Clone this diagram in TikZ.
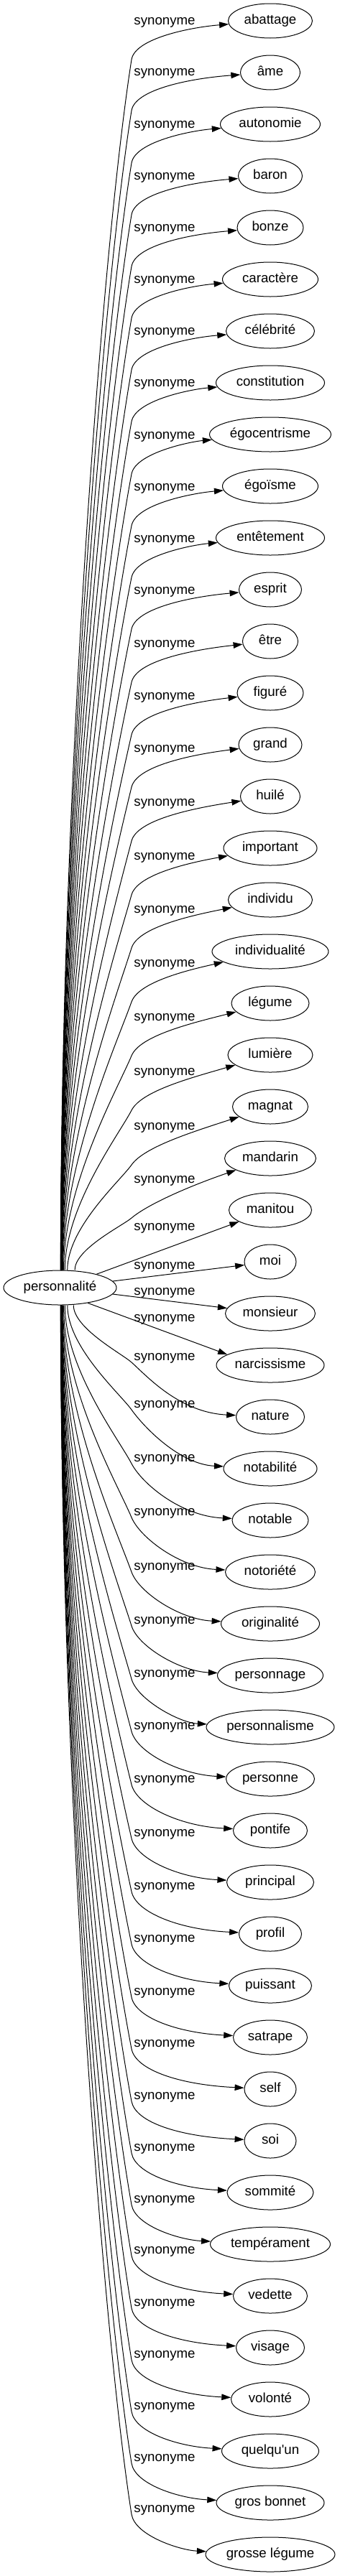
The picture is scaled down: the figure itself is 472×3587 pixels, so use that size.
\documentclass[tikz,border=0pt]{standalone}
\usepackage{fontspec}
\setmainfont{Liberation Sans}
\usetikzlibrary{shapes.geometric, arrows.meta, calc}

\begin{document}
\begin{tikzpicture}[x=1pt, y=-1pt, >={Triangle[length=13pt, width=8.5pt]}, line width=1pt,
    every node/.style={font=\fontsize{18.67}{22}\selectfont},
    motnode/.style={ellipse, draw, inner sep=0pt, minimum height=48pt, text height=13.5pt, text depth=4pt},
    synlabel/.style={anchor=base, inner sep=0pt},
    synedge/.style={->}]
    % 0. cadre de la page
    \useasboundingbox (0,0) rectangle (472,3587);

    % 1. noeud source
    \node[motnode, minimum width=157pt] (p) at (83.5,1793) {personnalité};

    % 2. synonymes (colonne de droite, pas de 72)
    \foreach \i/\w/\mot in {0/117/abattage, 1/83/âme, 2/139/autonomie, 3/89/baron, 4/92/bonze,
        5/133/caractère, 6/123/célébrité, 7/151/constitution, 8/169/égocentrisme, 9/133/égoïsme,
        10/151/entêtement, 11/87/esprit, 12/77/être, 13/92/figuré, 14/88/grand, 15/83/huilé,
        16/130/important, 17/117/individu, 18/162/individualité, 19/108/légume, 20/118/lumière,
        21/105/magnat, 22/127/mandarin, 23/115/manitou, 24/72/moi, 25/125/monsieur,
        26/150/narcissisme, 27/95/nature, 28/130/notabilité, 29/106/notable, 30/125/notoriété,
        31/137/originalité, 32/147/personnage, 33/178/personnalisme, 34/123/personne,
        35/103/pontife, 36/121/principal, 37/87/profil, 38/115/puissant, 39/103/satrape,
        40/72/self, 41/72/soi, 42/120/sommité, 43/167/tempérament, 44/103/vedette,
        45/95/visage, 46/109/volonté, 47/135/quelqu\textquotesingle un, 48/150/gros bonnet,
        49/180/grosse légume}
        \node[motnode, minimum width=\w pt] (t\i) at (376,{29+72*\i}) {\mot};

    % 3. etiquettes des aretes
    \foreach \i/\ly in {0/29, 1/100, 2/173, 3/245, 4/317, 5/389, 6/461, 7/533, 8/606, 9/678,
        10/750, 11/822, 12/896, 13/969, 14/1042, 15/1117, 16/1192, 17/1266, 18/1341, 19/1416,
        20/1492, 21/1568, 22/1642, 23/1708, 24/1762, 25/1798, 26/1835, 27/1889, 28/1955,
        29/2030, 30/2105, 31/2181, 32/2256, 33/2330, 34/2403, 35/2477, 36/2552, 37/2626,
        38/2699, 39/2773, 40/2845, 41/2918, 42/2990, 43/3062, 44/3133, 45/3206, 46/3278,
        47/3350, 48/3422, 49/3493}
        \node[synlabel] (l\i) at (229,{\ly+5}) {synonyme};

    % 4. aretes vers le haut
    \foreach \i/\ly in {0/29, 1/100, 2/173, 3/245, 4/317, 5/389, 6/461, 7/533, 8/606, 9/678,
        10/750, 11/822, 12/896, 13/969, 14/1042, 15/1117, 16/1192, 17/1266, 18/1341, 19/1416,
        20/1492, 21/1568, 22/1642}{
        \pgfmathsetmacro{\qyy}{\ly+54}
        \pgfmathsetmacro{\dlt}{1769-\qyy}
        \pgfmathsetmacro{\dxx}{1500/\dlt}
        \pgfmathsetmacro{\pay}{-0.4*\dlt}
        \pgfmathsetmacro{\bxx}{183-0.15*(99.5-\dxx)-0.01483*\dlt}
        \pgfmathsetmacro{\byy}{\qyy+0.15*\dlt}
        \coordinate (q) at (183,\qyy);
        \coordinate (b) at (\bxx,\byy);
        \draw[synedge] ($(p.north)+(\dxx,0)$) .. controls ($(p.north)+(\dxx,\pay)$) and (b) .. (q)
            .. controls ($(q)!-30pt!(b)$) and (265,{\ly+9}) .. (t\i);
    }

    % 5. aretes presque droites au milieu
    \draw[synedge] (p) -- (t23);
    \draw[synedge] (p) -- (t24);
    \draw[synedge] (p) -- (t25);
    \draw[synedge] (p.-29) -- (t26.166);

    % 6. aretes vers le bas
    \foreach \i/\ly in {27/1889, 28/1955, 29/2030, 30/2105, 31/2181, 32/2256, 33/2330,
        34/2403, 35/2477, 36/2552, 37/2626, 38/2699, 39/2773, 40/2845, 41/2918, 42/2990,
        43/3062, 44/3133, 45/3206, 46/3278, 47/3350, 48/3422, 49/3493}{
        \pgfmathsetmacro{\qyy}{\ly+8}
        \pgfmathsetmacro{\dlt}{\qyy-1817}
        \pgfmathsetmacro{\dxx}{1500/\dlt}
        \pgfmathsetmacro{\pay}{0.4*\dlt}
        \pgfmathsetmacro{\bxx}{183-0.15*(99.5-\dxx)-0.01483*\dlt}
        \pgfmathsetmacro{\byy}{\qyy-0.15*\dlt}
        \coordinate (q) at (183,\qyy);
        \coordinate (b) at (\bxx,\byy);
        \draw[synedge] ($(p.south)+(\dxx,0)$) .. controls ($(p.south)+(\dxx,\pay)$) and (b) .. (q)
            .. controls ($(q)!-30pt!(b)$) and (250,{23+72*\i}) .. (t\i);
    }
\end{tikzpicture}
\end{document}
